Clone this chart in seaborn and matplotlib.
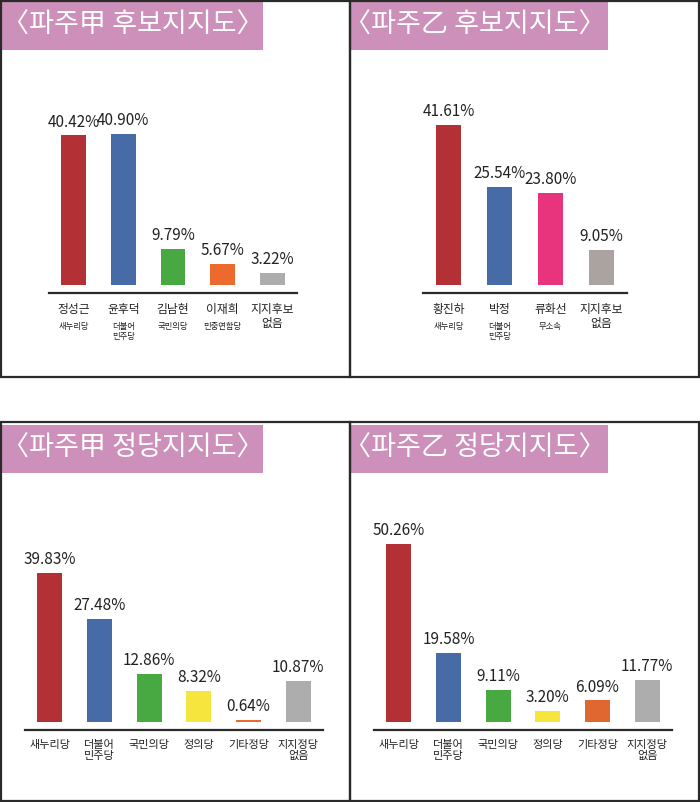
import matplotlib
matplotlib.use("Agg")
import matplotlib.pyplot as plt
import matplotlib.patches as patches
import seaborn as sns

sns.set_style("white")
plt.rcParams['font.family'] = ['Noto Sans CJK KR', 'DejaVu Sans']

# 파주甲 후보
gap_cand_names = ['정성근', '윤후덕', '김남현', '이재희', '지지후보\n없음']
gap_cand_parties = ['새누리당', '더불어\n민주당', '국민의당', '민중연합당', '']
gap_cand_values = [40.42, 40.90, 9.79, 5.67, 3.22]
gap_cand_colors = ['#B33034', '#466BA7', '#48A942', '#EC6A2E', '#ADADAD']

# 파주乙 후보
eul_cand_names = ['황진하', '박정', '류화선', '지지후보\n없음']
eul_cand_parties = ['새누리당', '더불어\n민주당', '무소속', '']
eul_cand_values = [41.61, 25.54, 23.80, 9.05]
eul_cand_colors = ['#B33034', '#466BA7', '#E8347D', '#ABA39F']

# 정당
party_names = ['새누리당', '더불어\n민주당', '국민의당', '정의당', '기타정당', '지지정당\n없음']
gap_party_values = [39.83, 27.48, 12.86, 8.32, 0.64, 10.87]
gap_party_colors = ['#B33034', '#466BA7', '#48A942', '#F5E53C', '#EC6A2E', '#ADADAD']
eul_party_values = [50.26, 19.58, 9.11, 3.20, 6.09, 11.77]
eul_party_colors = ['#B33034', '#466BA7', '#48A942', '#F5E53C', '#E0672F', '#ADADAD']

W, H = 700, 802
fig = plt.figure(figsize=(W / 100, H / 100), dpi=100)
fig.patch.set_facecolor('white')

PINK = '#CC90BA'
EDGE = '#2a2a2a'


def px_rect(x0, y0, x1, y1, **kw):
    fig.add_artist(patches.Rectangle((x0 / W, 1 - y1 / H), (x1 - x0) / W, (y1 - y0) / H,
                                     transform=fig.transFigure, **kw))


def panel(box, band, title, title_x, title_y):
    px_rect(*box, facecolor='none', edgecolor=EDGE, linewidth=1.6, zorder=5)
    px_rect(*band, facecolor=PINK, edgecolor='none', zorder=1)
    fig.text(title_x / W, 1 - title_y / H, title, color='white', fontsize=19.5,
             ha='left', va='center', zorder=6)


def chart(x0, x1, base, top, ymax, names, values, colors, parties=None,
          name_size=8.5, bar_w=0.5):
    ax = fig.add_axes([x0 / W, 1 - base / H, (x1 - x0) / W, (base - top) / H])
    n = len(names)
    sns.barplot(x=list(range(n)), y=values, hue=list(range(n)), palette=colors,
                legend=False, width=bar_w, saturation=1, linewidth=0, ax=ax)
    ax.set_xlim(-0.5, n - 0.5)
    ax.set_ylim(0, ymax)
    for c in ax.containers:
        ax.bar_label(c, labels=[f'{v:.2f}%' for v in c.datavalues], padding=3.5,
                     fontsize=11, color='#222222')
    for s in ['top', 'left', 'right']:
        ax.spines[s].set_visible(False)
    ax.spines['bottom'].set_position(('outward', 6))
    ax.spines['bottom'].set_linewidth(1.6)
    ax.spines['bottom'].set_color(EDGE)
    ax.set_yticks([])
    ax.set_xticks(range(n))
    ax.set_xticklabels(names, fontsize=name_size, fontweight='medium',
                       color='#222222', linespacing=1.1)
    ax.tick_params(axis='x', which='major', length=0, pad=7)
    ax.set_xticks([i - 0.5 for i in range(n + 1)], minor=True)
    ax.tick_params(axis='x', which='minor', length=3.5, width=1.0, color=EDGE,
                   direction='out')
    minor = ax.xaxis.get_minor_ticks()
    for t in (minor[0], minor[-1]):
        t.tick1line.set_markersize(7)
        t.tick1line.set_markeredgewidth(1.6)
    ax.set_xlabel('')
    ax.set_ylabel('')
    if parties:
        for i, p in enumerate(parties):
            if p:
                ax.annotate(p, xy=(i, 0), xycoords=('data', 'axes fraction'),
                            xytext=(0, -26.5), textcoords='offset points',
                            ha='center', va='top', fontsize=6, color='#222222',
                            linespacing=1.2)
    return ax


panel((1, 1, 350, 377), (2, 2, 263, 50), '〈파주甲 후보지지도〉', 2, 25)
panel((350, 1, 699, 377), (351, 2, 608, 50), '〈파주乙 후보지지도〉', 344, 25)
panel((1, 422, 350, 801), (2, 425, 263, 473), '〈파주甲 정당지지도〉', 2, 448)
panel((350, 422, 699, 801), (351, 425, 608, 473), '〈파주乙 정당지지도〉', 344, 448)

chart(49, 297, 285, 60, 60.8, gap_cand_names, gap_cand_values, gap_cand_colors,
      gap_cand_parties)
chart(423, 627, 285, 60, 58.4, eul_cand_names, eul_cand_values, eul_cand_colors,
      eul_cand_parties, bar_w=0.48)
chart(25, 323, 722, 490, 61.9, party_names, gap_party_values, gap_party_colors,
      name_size=8)
chart(374, 672, 722, 490, 65.4, party_names, eul_party_values, eul_party_colors,
      name_size=8)

fig.savefig('out.png', dpi=100, facecolor='white')
